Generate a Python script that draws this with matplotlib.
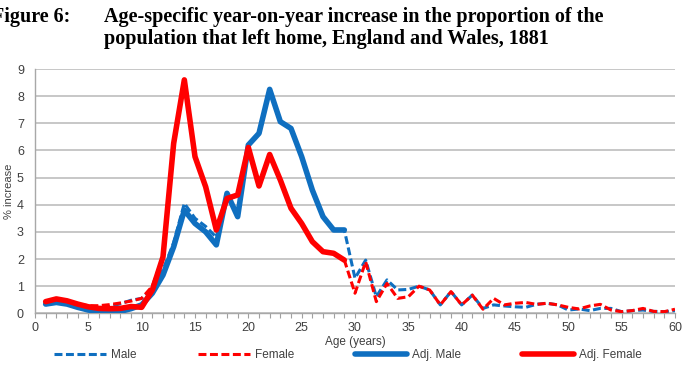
import matplotlib
matplotlib.use("Agg")
import matplotlib.pyplot as plt
import numpy as np

ages = list(range(1, 61))

adj_male = [0.34, 0.40, 0.34, 0.22, 0.12, 0.06, 0.05, 0.07, 0.17, 0.31,
            0.74, 1.41, 2.45, 3.80, 3.31, 3.00, 2.52, 4.42, 3.56, 6.20,
            6.63, 8.25, 7.06, 6.81, 5.77, 4.54, 3.56, 3.07, 3.07]
adj_female = [0.43, 0.53, 0.46, 0.34, 0.24, 0.18, 0.17, 0.18, 0.25, 0.22,
              0.86, 2.08, 6.26, 8.60, 5.77, 4.66, 3.07, 4.23, 4.36, 6.11,
              4.69, 5.85, 4.91, 3.87, 3.31, 2.64, 2.27, 2.21, 1.96]

male = [0.36, 0.42, 0.36, 0.26, 0.18, 0.18, 0.25, 0.35, 0.48, 0.55,
        0.90, 1.60, 2.60, 4.05, 3.50, 3.20, 2.80, 4.42, 3.56, 6.20,
        6.63, 8.25, 7.06, 6.81, 5.77, 4.54, 3.56, 3.07, 3.07,
        1.29, 1.96, 0.61, 1.23, 0.86, 0.88, 1.00, 0.86, 0.31, 0.80, 0.31,
        0.67, 0.18, 0.31, 0.27, 0.24, 0.22, 0.33, 0.37, 0.31, 0.12,
        0.16, 0.10, 0.18, 0.18, 0.06, 0.10, 0.12, 0.07, 0.06, 0.10]
female = [0.43, 0.53, 0.46, 0.34, 0.28, 0.28, 0.32, 0.38, 0.45, 0.55,
          1.00, 2.10, 6.26, 8.60, 5.77, 4.66, 3.07, 4.23, 4.36, 6.11,
          4.69, 5.85, 4.91, 3.87, 3.31, 2.64, 2.27, 2.21, 1.96,
          0.74, 1.90, 0.43, 1.10, 0.55, 0.61, 1.00, 0.86, 0.31, 0.80, 0.31,
          0.67, 0.15, 0.55, 0.31, 0.37, 0.40, 0.33, 0.37, 0.31, 0.22,
          0.16, 0.27, 0.33, 0.12, 0.06, 0.10, 0.18, 0.07, 0.06, 0.15]

x_labels = [0, 5, 10, 15, 20, 25, 30, 35, 40, 45, 50, 55, 60]
y_ticks = list(range(0, 10))

fig_label = "Figure 6:"
title_lines = ["Age-specific year-on-year increase in the proportion of the",
               "population that left home, England and Wales, 1881"]

BLUE = "#0F6FC0"
RED = "#FF0000"
GREY = "#404040"

plt.rcParams['font.family'] = ['Liberation Sans', 'DejaVu Sans']

fig = plt.figure(figsize=(6.82, 3.70), dpi=100)
ax = fig.add_axes([35/682, 1 - 313.3/370, 640/682, (313.3 - 69)/370])

dash = (2.6, 1.15)
ax.plot(ages[:len(male)], male, color=BLUE, lw=2.2, ls=(0, dash), label="Male",
        dash_joinstyle='round', zorder=3)
ax.plot(ages[:len(female)], female, color=RED, lw=2.2, ls=(0, dash), label="Female",
        dash_joinstyle='round', zorder=3)
ax.plot(ages[:len(adj_male)], adj_male, color=BLUE, lw=4.0, label="Adj. Male",
        solid_joinstyle='round', solid_capstyle='round', zorder=4)
ax.plot(ages[:len(adj_female)], adj_female, color=RED, lw=4.0, label="Adj. Female",
        solid_joinstyle='round', solid_capstyle='round', zorder=5)

ax.set_xlim(0, 60)
ax.set_ylim(0, 9)
ax.set_xticks(x_labels)
ax.set_xticks(range(0, 61), minor=True)
ax.set_yticks(y_ticks)
ax.tick_params(axis='x', which='both', length=3.5, color='#A0A0A0', width=0.8,
               labelsize=9, labelcolor=GREY, pad=3)
ax.tick_params(axis='y', length=0, labelsize=9, labelcolor=GREY, pad=8)
ax.grid(axis='y', color='#BEBEBE', lw=1.2)
ax.set_axisbelow(True)
for s in ['top', 'right']:
    ax.spines[s].set_visible(False)
for s in ['left', 'bottom']:
    ax.spines[s].set_color('#A8A8A8')
    ax.spines[s].set_linewidth(1.0)

ax.set_xlabel("Age (years)", fontsize=8.5, color=GREY, labelpad=1)
ax.set_ylabel("% increase", fontsize=8, color=GREY)
ax.yaxis.set_label_coords(-21/640, 0.5)

fig.legend(loc='center', bbox_to_anchor=(348/682, 1 - 355/370), ncol=4, frameon=False,
           fontsize=8.5, handlelength=4.4, handletextpad=0.4, columnspacing=5.2,
           labelcolor=GREY)

fig.text(70/682, 1 - 22/370, fig_label, fontsize=14.5, fontweight='bold',
         family='Liberation Serif', va='baseline', ha='right')
fig.text(104/682, 1 - 22/370, title_lines[0], fontsize=14.5, fontweight='bold',
         family='Liberation Serif', va='baseline', ha='left')
fig.text(104/682, 1 - 44/370, title_lines[1], fontsize=14.5, fontweight='bold',
         family='Liberation Serif', va='baseline', ha='left')

fig.savefig("out.png", dpi=100)
